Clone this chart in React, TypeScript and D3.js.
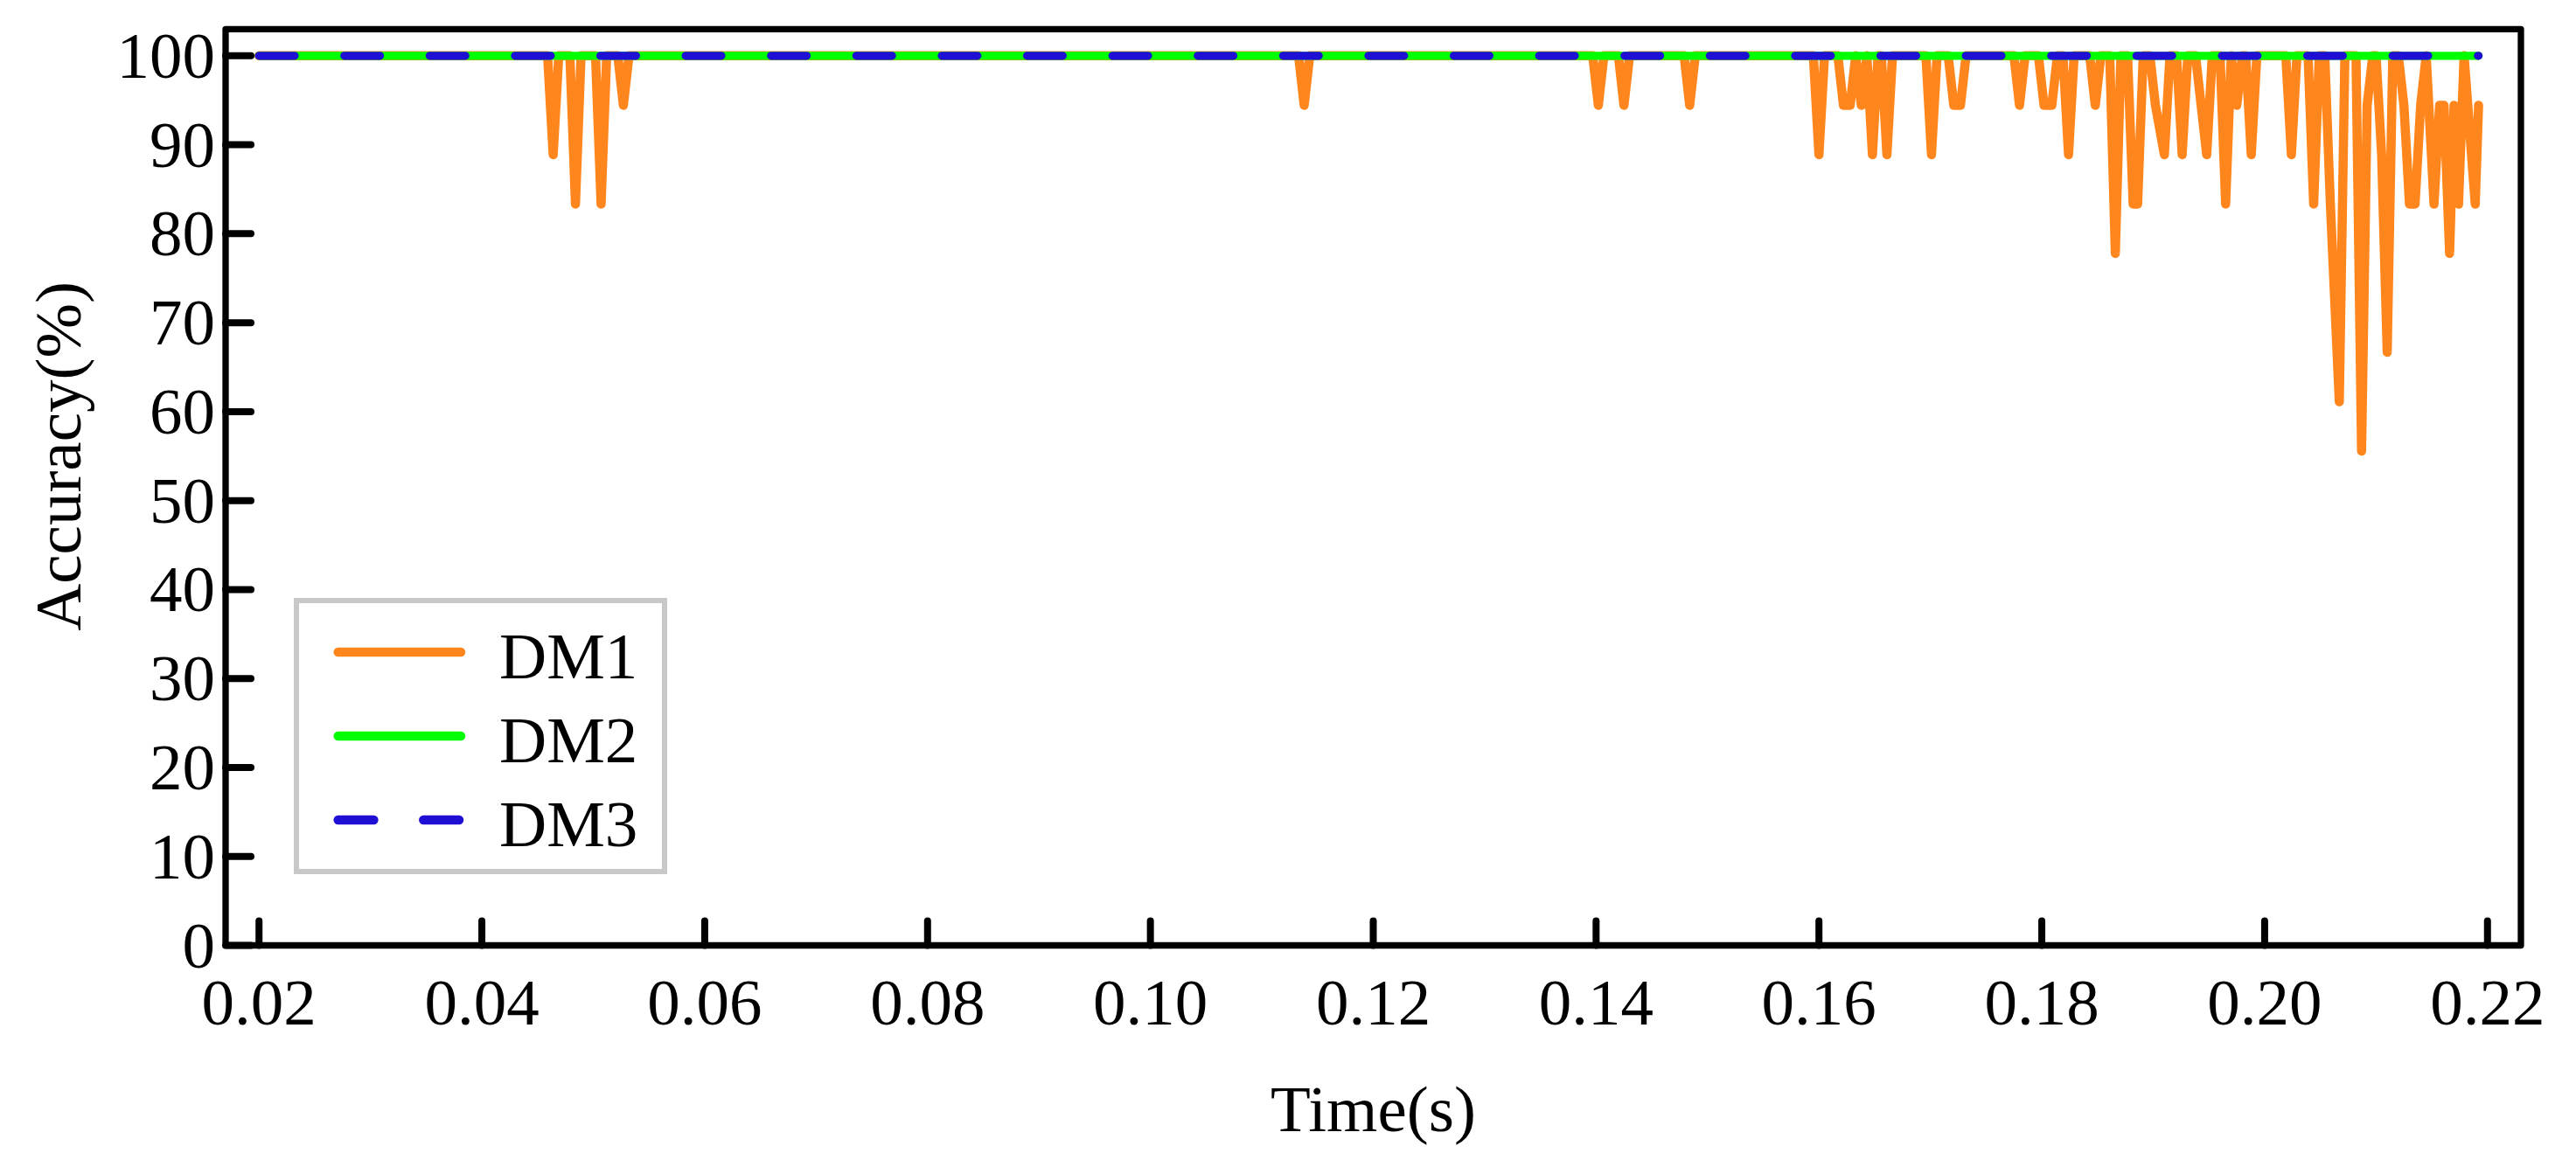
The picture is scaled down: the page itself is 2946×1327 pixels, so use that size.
import React, { useEffect, useRef } from 'react';
import * as d3 from 'd3';

// accuracy levels are multiples of 1/18
const dm1Time = [
  0.02, 0.0459, 0.0464, 0.0469, 0.0479, 0.0484, 0.0489, 0.0502, 0.0507, 0.0512,
  0.0522, 0.0527, 0.0532, 0.1133, 0.1138, 0.1143, 0.1397, 0.1402, 0.1407, 0.142,
  0.1425, 0.143, 0.1479, 0.1484, 0.1489, 0.1595, 0.16, 0.1605, 0.1617, 0.1622,
  0.1628, 0.1633, 0.1638, 0.1643, 0.1648, 0.1653, 0.1656, 0.1661, 0.1666, 0.1696,
  0.1701, 0.1706, 0.1716, 0.1721, 0.1727, 0.1732, 0.1775, 0.178, 0.1785, 0.1797,
  0.1802, 0.1809, 0.1814, 0.1819, 0.1824, 0.1829, 0.1843, 0.1848, 0.1853, 0.1861,
  0.1866, 0.1871, 0.1877, 0.1882, 0.1886, 0.1891, 0.1897, 0.1902, 0.191, 0.1915,
  0.1921, 0.1926, 0.1931, 0.1938, 0.1943, 0.1948, 0.1953, 0.196, 0.1965, 0.197,
  0.1975, 0.198, 0.1983, 0.1988, 0.1993, 0.2019, 0.2024, 0.2029, 0.2039, 0.2044,
  0.2049, 0.2054, 0.2059, 0.2067, 0.2072, 0.2082, 0.2087, 0.2092, 0.2097, 0.21,
  0.2105, 0.211, 0.2115, 0.212, 0.2125, 0.213, 0.2135, 0.214, 0.2145, 0.2152,
  0.2157, 0.2161, 0.2166, 0.217, 0.2174, 0.2179, 0.2189, 0.2192
];
const dm1Acc = [
  100, 100, 88.89, 100, 100, 83.33, 100, 100, 83.33, 100,
  100, 94.44, 100, 100, 94.44, 100, 100, 94.44, 100, 100,
  94.44, 100, 100, 94.44, 100, 100, 88.89, 100, 100, 94.44,
  94.44, 100, 94.44, 100, 88.89, 100, 100, 88.89, 100, 100,
  88.89, 100, 100, 94.44, 94.44, 100, 100, 94.44, 100, 100,
  94.44, 94.44, 100, 100, 88.89, 100, 100, 94.44, 100, 100,
  77.78, 100, 100, 83.33, 83.33, 100, 100, 94.44, 88.89, 100,
  100, 88.89, 100, 100, 94.44, 88.89, 100, 100, 83.33, 100,
  94.44, 100, 100, 88.89, 100, 100, 88.89, 100, 100, 83.33,
  100, 100, 83.33, 61.11, 100, 100, 55.56, 94.44, 100, 100,
  88.89, 66.67, 100, 100, 94.44, 83.33, 83.33, 94.44, 100, 83.33,
  94.44, 94.44, 77.78, 94.44, 83.33, 100, 83.33, 94.44
];
const dm2Time = [0.02, 0.2192];
const dm2Acc = [100, 100];
const dm3Time = [0.02, 0.2192];
const dm3Acc = [100, 100];

const xTicks = [0.02, 0.04, 0.06, 0.08, 0.1, 0.12, 0.14, 0.16, 0.18, 0.2, 0.22];
const yTicks = [0, 10, 20, 30, 40, 50, 60, 70, 80, 90, 100];
const seriesNames = ['DM1', 'DM2', 'DM3'];
const seriesColors = ['#ff861c', '#00ff00', '#1f0fd4'];
const seriesWidths = [10.5, 9.3, 9.3];

const width = 2946;
const height = 1327;
const frame = { left: 258, right: 2883, top: 33.3, bottom: 1081.5 };
const font = "'Liberation Serif', 'Times New Roman', serif";

const App: React.FC = () => {
  const svgRef = useRef<SVGSVGElement | null>(null);

  useEffect(() => {
    if (!svgRef.current) return;
    const svg = d3.select(svgRef.current);
    svg.selectAll('*').remove();

    const x = d3.scaleLinear().domain([0.017, 0.223]).range([frame.left, frame.right]);
    const y = d3.scaleLinear().domain([0, 103]).range([frame.bottom, frame.top]);

    const line = d3.line<[number, number]>()
      .x(d => x(d[0]))
      .y(d => y(d[1]));

    const series = [
      dm1Time.map((t, i) => [t, dm1Acc[i]] as [number, number]),
      dm2Time.map((t, i) => [t, dm2Acc[i]] as [number, number]),
      dm3Time.map((t, i) => [t, dm3Acc[i]] as [number, number])
    ];

    const dash = '40.7 56.9';

    series.forEach((pts, i) => {
      svg.append('path')
        .attr('d', line(pts))
        .attr('fill', 'none')
        .attr('stroke', seriesColors[i])
        .attr('stroke-width', seriesWidths[i])
        .attr('stroke-linejoin', 'round')
        .attr('stroke-linecap', 'round')
        .attr('stroke-dasharray', i === 2 ? dash : null);
    });

    // frame
    svg.append('rect')
      .attr('x', frame.left)
      .attr('y', frame.top)
      .attr('width', frame.right - frame.left)
      .attr('height', frame.bottom - frame.top)
      .attr('fill', 'none')
      .attr('stroke', '#000')
      .attr('stroke-width', 7.3)
      .attr('stroke-linejoin', 'round');

    // ticks, pointing inward
    svg.selectAll('.xtick')
      .data(xTicks)
      .enter()
      .append('line')
      .attr('x1', d => x(d))
      .attr('x2', d => x(d))
      .attr('y1', frame.bottom)
      .attr('y2', frame.bottom - 28)
      .attr('stroke', '#000')
      .attr('stroke-width', 8)
      .attr('stroke-linecap', 'round');

    svg.selectAll('.ytick')
      .data(yTicks)
      .enter()
      .append('line')
      .attr('x1', frame.left)
      .attr('x2', frame.left + 29)
      .attr('y1', d => y(d))
      .attr('y2', d => y(d))
      .attr('stroke', '#000')
      .attr('stroke-width', 8)
      .attr('stroke-linecap', 'round');

    svg.selectAll('.xlabel')
      .data(xTicks)
      .enter()
      .append('text')
      .attr('x', d => x(d))
      .attr('y', 1172)
      .attr('text-anchor', 'middle')
      .attr('font-family', font)
      .attr('font-size', 75)
      .text(d => d.toFixed(2));

    svg.selectAll('.ylabel')
      .data(yTicks)
      .enter()
      .append('text')
      .attr('x', 246)
      .attr('y', d => y(d) + 25)
      .attr('text-anchor', 'end')
      .attr('font-family', font)
      .attr('font-size', 75)
      .text(d => d);

    // axis titles
    svg.append('text')
      .attr('x', (frame.left + frame.right) / 2)
      .attr('y', 1294)
      .attr('text-anchor', 'middle')
      .attr('font-family', font)
      .attr('font-size', 75)
      .text('Time(s)');

    svg.append('text')
      .attr('transform', 'translate(92,522) rotate(-90)')
      .attr('text-anchor', 'middle')
      .attr('font-family', font)
      .attr('font-size', 75)
      .text('Accuracy(%)');

    // legend
    const legend = svg.append('g');
    legend.append('rect')
      .attr('x', 339)
      .attr('y', 687)
      .attr('width', 421)
      .attr('height', 310)
      .attr('fill', '#fff')
      .attr('stroke', '#c8c8c8')
      .attr('stroke-width', 6);

    seriesNames.forEach((name, i) => {
      const ry = 746 + i * 96;
      legend.append('line')
        .attr('x1', 386.7)
        .attr('x2', 527)
        .attr('y1', ry)
        .attr('y2', ry)
        .attr('stroke', seriesColors[i])
        .attr('stroke-width', 10.5)
        .attr('stroke-linecap', 'round')
        .attr('stroke-dasharray', i === 2 ? dash : null);
      legend.append('text')
        .attr('x', 571)
        .attr('y', ry + 30)
        .attr('font-family', font)
        .attr('font-size', 75)
        .text(name);
    });
  }, []);

  return (
    <div style={{ position: 'absolute', left: 0, top: 0, background: '#fff' }}>
      <svg ref={svgRef} width={width} height={height} style={{ display: 'block' }} />
    </div>
  );
};

export default App;
